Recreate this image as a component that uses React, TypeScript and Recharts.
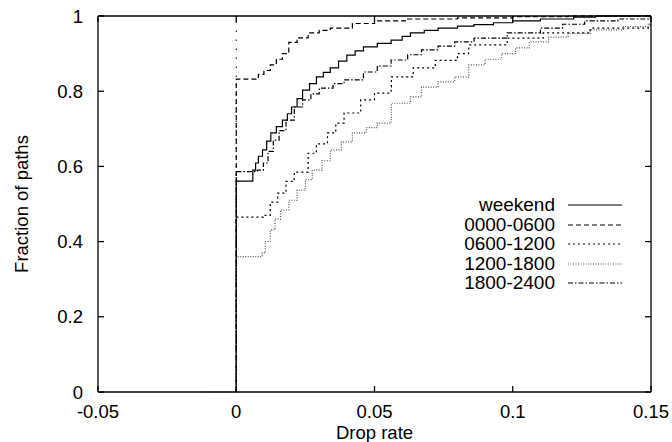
import React from "react";
import {
  LineChart,
  Line,
  XAxis,
  YAxis,
  ReferenceLine,
  Legend,
} from "recharts";

// CDF of drop rate per time-of-day bucket: [drop rate, fraction of paths]
const weekend = [
  [0, 0], [0, 0.561], [0.006, 0.59], [0.007, 0.609], [0.008, 0.627], [0.0095, 0.644],
  [0.011, 0.667], [0.0125, 0.689], [0.0145, 0.706], [0.0167, 0.723], [0.0185, 0.74],
  [0.02, 0.758], [0.022, 0.78], [0.024, 0.803], [0.0265, 0.82], [0.029, 0.838],
  [0.0315, 0.85], [0.034, 0.862], [0.037, 0.88], [0.04, 0.896], [0.043, 0.907],
  [0.046, 0.918], [0.051, 0.927], [0.056, 0.936], [0.06, 0.946], [0.063, 0.955],
  [0.068, 0.962], [0.073, 0.968], [0.08, 0.973], [0.086, 0.977], [0.093, 0.982],
  [0.1, 0.987], [0.11, 0.992], [0.122, 0.997], [0.13, 1], [0.15, 1],
];
const night = [
  [0, 0], [0, 0.832], [0.008, 0.845], [0.01, 0.855], [0.0123, 0.87], [0.0145, 0.885],
  [0.0167, 0.9], [0.019, 0.93], [0.022, 0.942], [0.026, 0.955], [0.03, 0.962],
  [0.034, 0.968], [0.042, 0.98], [0.05, 0.987], [0.062, 0.992], [0.08, 0.995],
  [0.1, 0.998], [0.12, 1], [0.15, 1],
];
const morning = [
  [0, 0], [0, 0.465], [0.0098, 0.47], [0.0123, 0.505], [0.015, 0.529], [0.018, 0.56],
  [0.021, 0.585], [0.026, 0.635], [0.029, 0.66], [0.033, 0.689], [0.036, 0.715],
  [0.039, 0.742], [0.045, 0.777], [0.05, 0.795], [0.056, 0.811], [0.0561, 0.838],
  [0.064, 0.862], [0.072, 0.882], [0.08, 0.9], [0.084, 0.91], [0.0841, 0.923],
  [0.098, 0.941], [0.111, 0.955], [0.128, 0.968], [0.149, 0.976], [0.15, 0.978],
];
const afternoon = [
  [-0.012, 0], [0, 0], [0, 0.36], [0.0094, 0.37], [0.0105, 0.4], [0.0123, 0.431],
  [0.014, 0.46], [0.016, 0.484], [0.019, 0.51], [0.022, 0.537], [0.025, 0.565],
  [0.0275, 0.59], [0.031, 0.615], [0.034, 0.644], [0.038, 0.665], [0.042, 0.689],
  [0.047, 0.703], [0.051, 0.715], [0.056, 0.73], [0.0561, 0.768], [0.063, 0.785],
  [0.067, 0.811], [0.073, 0.825], [0.079, 0.838], [0.084, 0.843], [0.0841, 0.87],
  [0.09, 0.885], [0.096, 0.9], [0.101, 0.915], [0.106, 0.931], [0.113, 0.944],
  [0.12, 0.954], [0.128, 0.963], [0.14, 0.972], [0.149, 0.98], [0.15, 0.981],
];
const evening = [
  [0, 0], [0, 0.586], [0.0076, 0.59], [0.0098, 0.609], [0.0115, 0.64], [0.0134, 0.67],
  [0.0155, 0.695], [0.018, 0.723], [0.021, 0.758], [0.024, 0.777], [0.027, 0.793],
  [0.03, 0.808], [0.035, 0.82], [0.039, 0.83], [0.046, 0.851], [0.051, 0.867],
  [0.056, 0.883], [0.062, 0.897], [0.067, 0.91], [0.073, 0.92], [0.079, 0.931],
  [0.086, 0.941], [0.098, 0.955], [0.11, 0.968], [0.118, 0.978], [0.126, 0.987],
  [0.138, 0.992], [0.149, 0.995], [0.15, 0.996],
];

const xTicks = [-0.05, 0, 0.05, 0.1, 0.15];
const yTicks = [0, 0.2, 0.4, 0.6, 0.8, 1];

const FONT = "'Liberation Sans', Arial, Helvetica, sans-serif";

const SERIES = [
  { name: "weekend", data: weekend, color: "#000", dash: undefined },
  { name: "0000-0600", data: night, color: "#000", dash: "5 3" },
  { name: "0600-1200", data: morning, color: "#000", dash: "2 3" },
  { name: "1200-1800", data: afternoon, color: "#555", dash: "1 1.5" },
  { name: "1800-2400", data: evening, color: "#000", dash: "5 2 1.5 2" },
];

const toRows = (pts: number[][]) => pts.map(([x, y]) => ({ x, y }));

// inward mirror ticks on top/right border, ~6px long
const TICK_X = 0.2 * (6 / 553);
const TICK_Y = 6 / 376;

function KeyBox() {
  return (
    <div style={{ fontFamily: FONT, fontSize: 19, color: "#000" }}>
      {SERIES.map((s) => (
        <div key={s.name} style={{ display: "flex", alignItems: "center", height: 19.5 }}>
          <span style={{ width: 147, textAlign: "right", lineHeight: "19.5px" }}>{s.name}</span>
          <svg width={67} height={19.5}>
            <line x1={13} x2={67} y1={10} y2={10} stroke={s.color} strokeWidth={1.2} strokeDasharray={s.dash} />
          </svg>
        </div>
      ))}
    </div>
  );
}

export default function App() {
  const tickStyle = { fill: "#000", fontSize: 18.5, fontFamily: FONT };
  return (
    <>
      <style>{"body{margin:0;overflow:hidden}"}</style>
      <LineChart width={672} height={442} margin={{ top: 16, right: 21, bottom: 0, left: 0 }}>
        <XAxis
          dataKey="x"
          type="number"
          domain={[-0.05, 0.15]}
          ticks={xTicks}
          allowDataOverflow
          height={50}
          tickSize={-6}
          tickMargin={19}
          tick={tickStyle}
          stroke="#000"
          strokeWidth={1.3}
          label={{ value: "Drop rate", position: "insideBottom", offset: 3, fill: "#000", fontSize: 18.5, fontFamily: FONT }}
        />
        <YAxis
          type="number"
          domain={[0, 1]}
          ticks={yTicks}
          width={98}
          tickSize={-6}
          tickMargin={21}
          tick={tickStyle}
          stroke="#000"
          strokeWidth={1.3}
          label={{
            value: "Fraction of paths",
            angle: -90,
            position: "insideLeft",
            offset: 21,
            textAnchor: "middle",
            style: { textAnchor: "middle" },
            fill: "#000",
            fontSize: 18.5,
            fontFamily: FONT,
          }}
        />
        <ReferenceLine x={0} stroke="#000" strokeWidth={1} strokeDasharray="1.5 7.5" />
        <ReferenceLine y={1} stroke="#000" strokeWidth={1.3} ifOverflow="visible" />
        <ReferenceLine x={0.15} stroke="#000" strokeWidth={1.3} ifOverflow="visible" />
        {xTicks.map((t) => (
          <ReferenceLine
            key={"tx" + t}
            segment={[{ x: t, y: 1 }, { x: t, y: 1 - TICK_Y }]}
            stroke="#000"
            strokeWidth={1.3}
          />
        ))}
        {yTicks.map((t) => (
          <ReferenceLine
            key={"ty" + t}
            segment={[{ x: 0.15, y: t }, { x: 0.15 - TICK_X, y: t }]}
            stroke="#000"
            strokeWidth={1.3}
          />
        ))}
        {SERIES.map((s) => (
          <Line
            key={s.name}
            data={toRows(s.data)}
            dataKey="y"
            name={s.name}
            type="stepAfter"
            stroke={s.color}
            strokeWidth={1.2}
            strokeDasharray={s.dash}
            dot={false}
            isAnimationActive={false}
          />
        ))}
        <Legend
          layout="horizontal"
          verticalAlign="middle"
          align="center"
          content={() => <KeyBox />}
          wrapperStyle={{ left: 408, top: 195, width: 220 }}
        />
      </LineChart>
    </>
  );
}
